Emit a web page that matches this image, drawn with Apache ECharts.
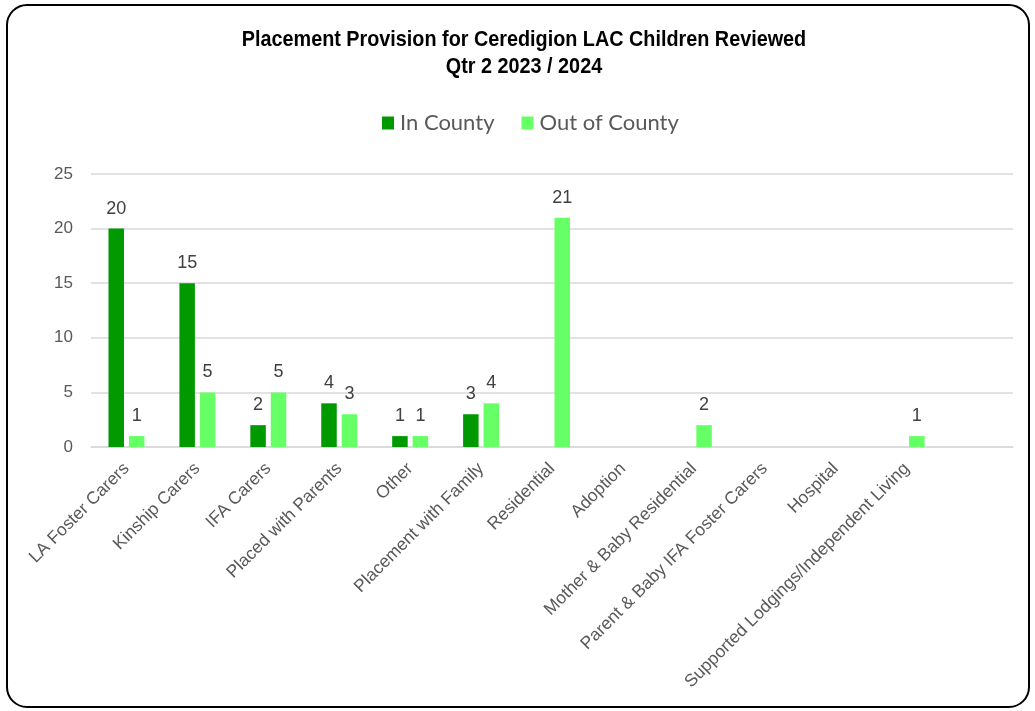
<!DOCTYPE html>
<html>
<head>
<meta charset="utf-8">
<script src="https://cdn.jsdelivr.net/npm/echarts@6/dist/echarts.min.js"></script>
<style>
html,body{margin:0;padding:0;background:#fff;}
#chart{width:1035px;height:711px;}
</style>
</head>
<body>
<div id="chart"></div>
<script>
const titleLines = ['Placement Provision for Ceredigion LAC Children Reviewed', 'Qtr 2 2023 / 2024'];
const categories = ['LA Foster Carers', 'Kinship Carers', 'IFA Carers', 'Placed with Parents', 'Other',
  'Placement with Family', 'Residential', 'Adoption', 'Mother & Baby Residential',
  'Parent & Baby IFA Foster Carers', 'Hospital', 'Supported Lodgings/Independent Living', ''];
const inCounty = [20, 15, 2, 4, 1, 3, null, null, null, null, null, null, null];
const outCounty = [1, 5, 5, 3, 1, 4, 21, null, 2, null, null, 1, null];
const seriesNames = ['In County', 'Out of County'];
const yTicks = {min: 0, max: 25, interval: 5};

const chart = echarts.init(document.getElementById('chart'));
const labelStyle = {
  show: true, position: 'top', distance: 11,
  color: '#404040', fontSize: 18, fontFamily: 'Liberation Sans, Arial, sans-serif'
};
const titleFont = {
  fontFamily: "'Liberation Sans', Arial, sans-serif",
  fontWeight: 'bold', fontSize: 22, fill: '#000', align: 'center', verticalAlign: 'middle'
};
chart.setOption({
  animation: false,
  backgroundColor: '#fff',
  legend: {
    data: seriesNames,
    left: 377, top: 107,
    itemWidth: 12, itemHeight: 13, itemGap: 27,
    icon: 'rect',
    textStyle: {fontFamily: 'Lato, sans-serif', fontSize: 22, color: '#595959', padding: [0, 0, 0, 1]}
  },
  grid: {left: 91, right: 22, top: 174, bottom: 264, containLabel: false},
  xAxis: {
    type: 'category',
    data: categories,
    axisLine: {lineStyle: {color: '#d9d9d9', width: 1.5}},
    axisTick: {show: false},
    axisLabel: {
      rotate: 45, interval: 0, margin: 19,
      color: '#595959', fontSize: 17.5, fontFamily: 'Liberation Sans, Arial, sans-serif'
    }
  },
  yAxis: {
    type: 'value',
    min: yTicks.min, max: yTicks.max, interval: yTicks.interval,
    axisLine: {show: false},
    axisTick: {show: false},
    splitLine: {lineStyle: {color: '#d9d9d9', width: 1.5}},
    axisLabel: {color: '#595959', fontSize: 17, margin: 18, fontFamily: 'Liberation Sans, Arial, sans-serif'}
  },
  series: [
    {
      name: seriesNames[0], type: 'bar', data: inCounty,
      barWidth: 15.5, barGap: '32%',
      itemStyle: {color: '#009900'},
      label: labelStyle
    },
    {
      name: seriesNames[1], type: 'bar', data: outCounty,
      barWidth: 15.5,
      itemStyle: {color: '#66ff66'},
      label: labelStyle
    }
  ],
  graphic: [
    {
      type: 'rect', silent: true, z: -1,
      shape: {x: 7, y: 5, width: 1022, height: 702, r: 20},
      style: {fill: 'none', stroke: '#000', lineWidth: 2}
    },
    {
      type: 'text', silent: true, x: 524, y: 40, scaleX: 0.9,
      style: Object.assign({text: titleLines[0]}, titleFont)
    },
    {
      type: 'text', silent: true, x: 524, y: 67, scaleX: 0.9,
      style: Object.assign({text: titleLines[1]}, titleFont)
    }
  ]
});
</script>
</body>
</html>
